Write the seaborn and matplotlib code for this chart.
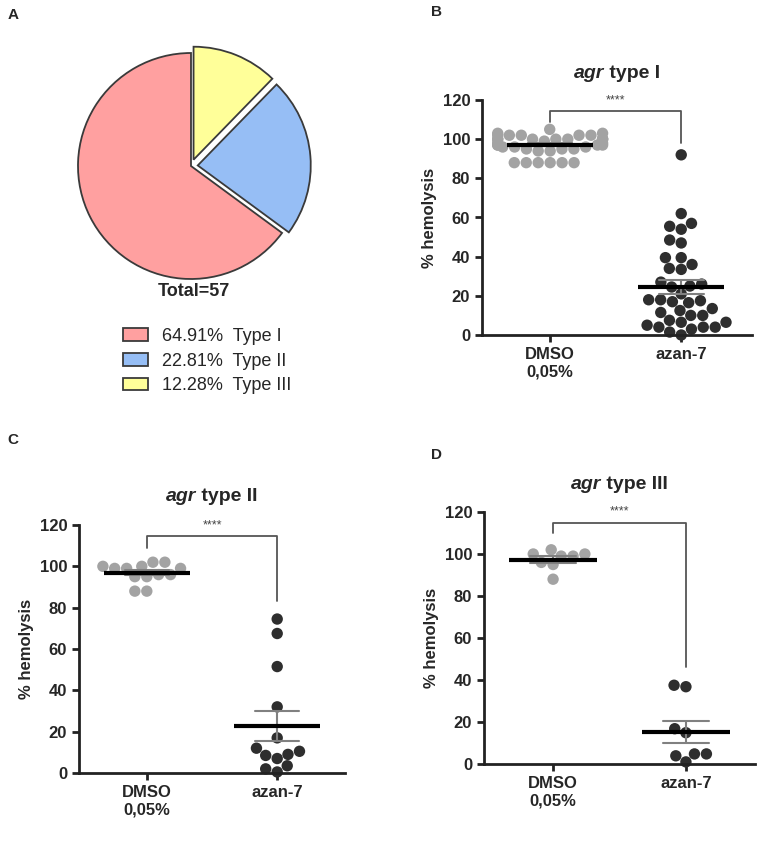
import numpy as np
import pandas as pd
import matplotlib
matplotlib.use('Agg')
import matplotlib.pyplot as plt
import seaborn as sns
from matplotlib.offsetbox import TextArea, HPacker, AnchoredOffsetbox

# ================= data =================
pie_types = ['Type I', 'Type II', 'Type III']
pie_counts = [37, 13, 7]

groups = ['DMSO\n0,05%', 'azan-7']
agr_types = ['type I', 'type II', 'type III']

dmso_t1 = [105, 103, 102, 102, 102, 102, 102, 103, 100, 100, 100, 100, 100, 100, 100, 100,
           99, 98, 98, 97, 97, 97, 96, 96, 96, 95, 95, 95, 94, 94, 97,
           88, 88, 88, 88, 88, 88]
azan_t1 = [92, 62, 57, 55.5, 54, 48.5, 47, 39.5, 39.5, 36, 34, 33.5, 27, 26, 25, 24.5,
           21, 18, 17.5, 17, 16.5, 18, 13.5, 12.5, 10, 10, 11.5, 7.5, 6.5, 6.5,
           4, 4, 1.5, 0, 3, 4, 5]
dmso_t2 = [100, 100, 99, 99, 99, 102, 102, 96, 96, 95, 95, 88, 88]
azan_t2 = [74.5, 67.5, 51.5, 32, 17, 12, 10.5, 9, 8.5, 7, 3.5, 2, 0.5]
dmso_t3 = [100, 99, 102, 96, 95, 99, 100, 88]
azan_t3 = [36.8, 37.5, 16.8, 14.9, 4.8, 3.9, 4.8, 1]

# significance bracket (left end, top, right end) in % hemolysis
sig_left = [109, 109, 110]
sig_top = [114.5, 114.5, 115]
sig_right = [98, 83, 46]

# ================= style =================
sns.set_style('ticks')
plt.rcParams['font.family'] = ['Liberation Sans', 'DejaVu Sans']

pie_colors = ['#FFA0A0', '#96BEF5', '#FFFF99']
dot_colors = ['#A3A3A3', '#2E2E2E']

W, H = 770, 849
fig = plt.figure(figsize=(W / 100, H / 100), dpi=100)


def px_axes(left, top, right, bottom):
    return fig.add_axes([left / W, 1 - bottom / H, (right - left) / W, (bottom - top) / H])


# ================= A: pie =================
cx, cy, r = 191, 166, 113
ax_pie = px_axes(cx - 150, cy - 150, cx + 150, cy + 150)
wedges, _ = ax_pie.pie(pie_counts, colors=pie_colors, startangle=90, counterclock=True,
                       explode=[0, 0.06, 0.06],
                       wedgeprops=dict(edgecolor='#3a3a3a', linewidth=1.3))
ax_pie.set_xlim(-150 / r, 150 / r)
ax_pie.set_ylim(-150 / r, 150 / r)
ax_pie.set_aspect('equal')

total = sum(pie_counts)
fig.text(194 / W, 1 - 291 / H, f'Total={total}', weight='bold', size=13,
         ha='center', va='center')
pie_labels = [f'{c / total * 100:.2f}%  {t}' for c, t in zip(pie_counts, pie_types)]
fig.legend(wedges, pie_labels, loc='upper left', bbox_to_anchor=(114 / W, 1 - 319 / H),
           frameon=False, borderpad=0, fontsize=13, handlelength=1.4, handleheight=0.7,
           handletextpad=0.75, labelspacing=0.42)

# ================= B, C, D: hemolysis dot plots =================
# axes box in pixels (left, top=120, right, bottom=0), x limits, title centre y
panels = [
    ((482, 100, 752, 335), (-0.52, 1.54), 73, dmso_t1, azan_t1),
    ((79, 525, 345, 773), (-0.52, 1.52), 496, dmso_t2, azan_t2),
    ((484, 512, 755, 764), (-0.52, 1.52), 484, dmso_t3, azan_t3),
]

for i, (box, xlim, title_y, dmso, azan) in enumerate(panels):
    ax = px_axes(*box)
    df = pd.DataFrame({'group': [groups[0]] * len(dmso) + [groups[1]] * len(azan),
                       'value': dmso + azan})

    sns.swarmplot(data=df, x='group', y='value', hue='group', palette=dot_colors,
                  order=groups, hue_order=groups, size=8.2, legend=False,
                  warn_thresh=1, ax=ax, zorder=2)
    for coll in ax.collections:
        coll.set_clip_on(False)

    # mean +/- SEM
    sns.pointplot(data=df, x='group', y='value', order=groups, errorbar='se',
                  capsize=0.34, color='#808080', linestyle='none', markersize=0,
                  err_kws={'linewidth': 1.5}, ax=ax)
    means = df.groupby('group', sort=False)['value'].mean().reindex(groups)
    ax.hlines(means.values, np.arange(2) - 0.33, np.arange(2) + 0.33,
              color='black', lw=3, zorder=5)

    # significance bracket
    ax.plot([0, 0, 1, 1], [sig_left[i], sig_top[i], sig_top[i], sig_right[i]],
            color='#555555', lw=1.3, clip_on=False)
    ax.text(0.5, sig_top[i] + 2.2, '****', ha='center', va='bottom', size=9,
            color='#444444')

    ax.set_xlim(*xlim)
    ax.set_ylim(0, 120)
    ax.set_yticks(range(0, 121, 20))
    ax.set_xticks([0, 1])
    ax.set_xticklabels(groups, weight='bold', size=12)
    for lbl in ax.get_yticklabels():
        lbl.set_fontweight('bold')
        lbl.set_fontsize(12)
    ax.set_xlabel('')
    ax.set_ylabel('% hemolysis', weight='bold', size=12)
    sns.despine(ax=ax)
    for s in ['left', 'bottom']:
        ax.spines[s].set_linewidth(2)
        ax.spines[s].set_color('#222222')
    ax.tick_params(axis='both', direction='out', length=5, width=2, color='#222222')

    # title: italic "agr" + bold "type X"
    title = HPacker(children=[
        TextArea('agr', textprops=dict(style='italic', weight='bold', size=14)),
        TextArea(' ' + agr_types[i], textprops=dict(weight='bold', size=14))],
        align='baseline', pad=0, sep=0)
    title_x = (box[0] + box[2]) / 2 / W
    ax.add_artist(AnchoredOffsetbox(loc='center', child=title, frameon=False,
                                    bbox_to_anchor=(title_x, 1 - title_y / H),
                                    bbox_transform=fig.transFigure, borderpad=0, pad=0))

# panel letters
for letter, (x, y) in zip('ABCD', [(13, 15), (437, 12), (13, 440), (437, 455)]):
    fig.text(x / W, 1 - y / H, letter, weight='bold', size=11, ha='center', va='center')

plt.savefig('out.png', dpi=100)
